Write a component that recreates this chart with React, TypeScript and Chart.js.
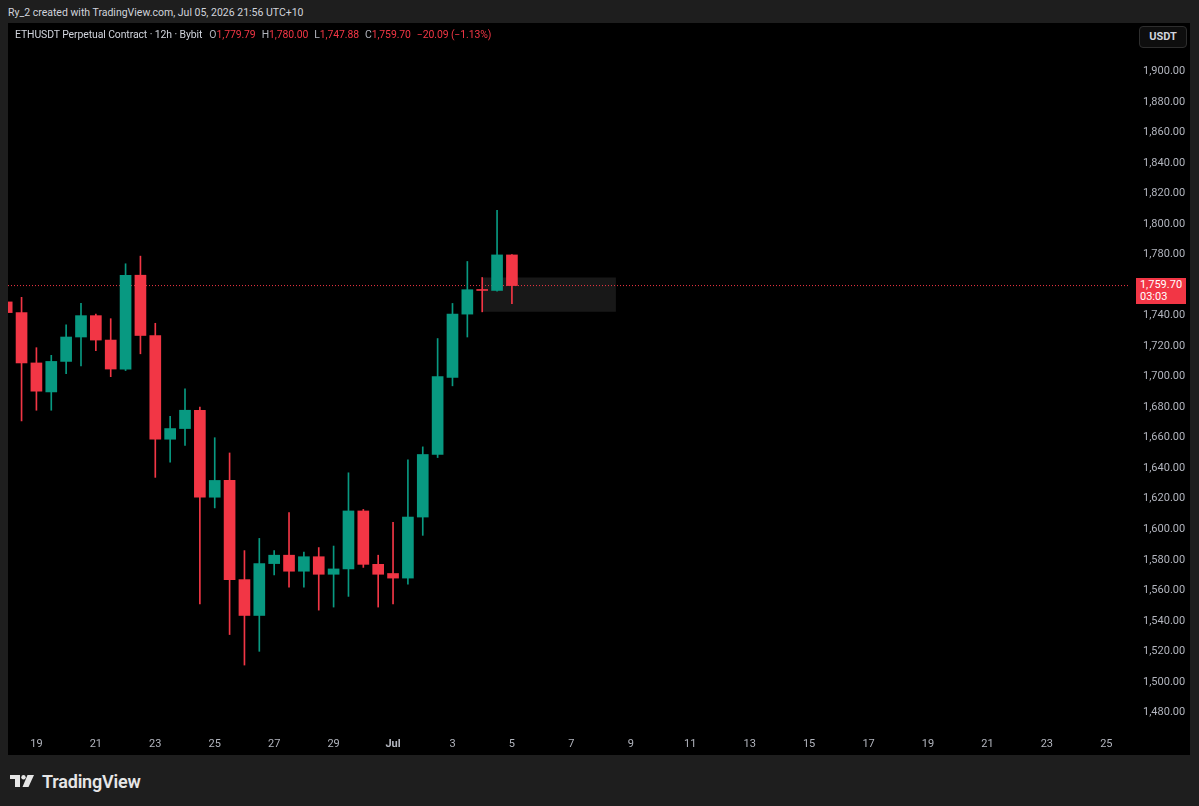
import React, { useEffect, useRef } from 'react';
import { Chart, registerables } from 'chart.js';

Chart.register(...registerables);

// Candle open times as day numbers counted from June (Jul 1 = 31), 12h candles
const DAYS = [
  18.0, 18.5, 19.0, 19.5, 20.0, 20.5, 21.0, 21.5, 22.0, 22.5,
  23.0, 23.5, 24.0, 24.5, 25.0, 25.5, 26.0, 26.5, 27.0, 27.5,
  28.0, 28.5, 29.0, 29.5, 30.0, 30.5, 31.0, 31.5, 32.0, 32.5,
  33.0, 33.5, 34.0, 34.5, 35.0,
];
const OPEN = [
  1749, 1742, 1709, 1690, 1710, 1726, 1740, 1724, 1705, 1766.5,
  1727, 1659, 1666, 1678, 1621, 1632, 1567, 1543.5, 1577.5, 1583,
  1572.5, 1582, 1570.5, 1574, 1612, 1577, 1571, 1568, 1608, 1649,
  1699.5, 1741, 1757, 1756.5, 1779.79,
];
const HIGH = [
  1752, 1752, 1719, 1714, 1734, 1748, 1741, 1738, 1774, 1779,
  1735, 1674, 1692, 1680, 1660, 1650, 1586, 1594, 1586, 1611,
  1585, 1588, 1589, 1637, 1613, 1583, 1604.5, 1645.5, 1654, 1725,
  1748, 1775.5, 1765, 1809, 1780.0,
];
const LOW = [
  1738, 1671, 1678, 1678, 1702, 1707, 1717, 1700, 1704, 1715,
  1634, 1644, 1655, 1551, 1614, 1531, 1511, 1520, 1570, 1562,
  1562, 1547, 1549, 1556, 1575, 1549, 1551, 1564, 1596, 1647,
  1694, 1726, 1742.5, 1756, 1747.88,
];
const CLOSE = [
  1742, 1709, 1690.5, 1710, 1726, 1740, 1724, 1705, 1766.5, 1727,
  1659, 1666, 1678, 1621, 1632, 1567, 1543.5, 1577.5, 1583, 1572.5,
  1582, 1570.5, 1574, 1612, 1577, 1570.5, 1568, 1608, 1649, 1700,
  1741, 1757, 1756.5, 1779.8, 1759.7,
];

const X_TICK_VALUES = [19, 21, 23, 25, 27, 29, 31, 33, 35, 37, 39, 41, 43, 45, 47, 49, 51, 53, 55];
const Y_TICK_VALUES = [
  1480, 1500, 1520, 1540, 1560, 1580, 1600, 1620, 1640, 1660, 1680,
  1700, 1720, 1740, 1760, 1780, 1800, 1820, 1840, 1860, 1880, 1900,
];
const LAST_PRICE = 1759.7;
const BOX_X = [34.0, 38.5];
const BOX_Y = [1742.5, 1765.0];

const X_MIN = 18.044;
const X_MAX = 55.797;
const Y_MIN = 1470.4;
const Y_MAX = 1931.8;

const UP = '#089981';
const DOWN = '#f23645';
const AXIS_TEXT = '#b2b5be';

function xLabel(v: number): string {
  if (v === 31) return 'Jul';
  return String(v > 30 ? v - 30 : v);
}

function CandleChart() {
  const ref = useRef<HTMLCanvasElement | null>(null);
  useEffect(() => {
    if (!ref.current) return;
    const colors = OPEN.map((o, i) => (CLOSE[i] >= o ? UP : DOWN));
    const chart = new Chart(ref.current, {
      type: 'bar',
      data: {
        datasets: [
          {
            type: 'line',
            label: 'box',
            data: [
              { x: BOX_X[0], y: BOX_Y[1] },
              { x: BOX_X[1], y: BOX_Y[1] },
            ],
            borderWidth: 0,
            borderColor: 'rgba(0,0,0,0)',
            pointRadius: 0,
            fill: { target: { value: BOX_Y[0] } },
            backgroundColor: '#181818',
            order: 5,
          } as any,
          {
            type: 'line',
            label: 'last',
            data: [
              { x: X_MIN, y: LAST_PRICE },
              { x: X_MAX, y: LAST_PRICE },
            ],
            borderColor: DOWN,
            borderWidth: 1,
            borderDash: [1, 2],
            pointRadius: 0,
            fill: false,
            order: 4,
          } as any,
          {
            type: 'bar',
            label: 'wicks',
            data: DAYS.map((d, i) => ({ x: d, y: [LOW[i], HIGH[i]] })),
            backgroundColor: colors,
            barThickness: 1,
            grouped: false,
            order: 3,
          } as any,
          {
            type: 'bar',
            label: 'bodies',
            data: DAYS.map((d, i) => ({ x: d, y: [OPEN[i], CLOSE[i]] })),
            backgroundColor: colors,
            barThickness: 11,
            minBarLength: 1,
            grouped: false,
            order: 2,
          } as any,
        ],
      },
      options: {
        responsive: false,
        animation: false,
        devicePixelRatio: 1,
        layout: { padding: 0 },
        plugins: { legend: { display: false }, tooltip: { enabled: false } },
        scales: {
          x: {
            type: 'linear',
            min: X_MIN,
            max: X_MAX,
            offset: false,
            grid: { display: false, drawTicks: false },
            border: { display: false },
            ticks: {
              autoSkip: false,
              maxRotation: 0,
              padding: 11,
              color: AXIS_TEXT,
              font: (ctx: any) => ({
                family: 'Roboto',
                size: 11,
                weight: ctx.tick && ctx.tick.value === 31 ? 'bold' : 'normal',
              }),
              callback: (v: any) => xLabel(Number(v)),
            },
            afterBuildTicks: (s: any) => {
              s.ticks = X_TICK_VALUES.map((value) => ({ value }));
            },
            afterFit: (s: any) => {
              s.height = 28;
              s.paddingLeft = 0;
              s.paddingRight = 0;
            },
          },
          y: {
            type: 'linear',
            position: 'right',
            min: Y_MIN,
            max: Y_MAX,
            grid: { display: false, drawTicks: false },
            border: { display: false },
            ticks: {
              autoSkip: false,
              padding: 13,
              color: AXIS_TEXT,
              font: { family: 'Roboto', size: 11 },
              callback: (v: any) =>
                Number(v).toLocaleString('en-US', { minimumFractionDigits: 2, maximumFractionDigits: 2 }),
            },
            afterBuildTicks: (s: any) => {
              s.ticks = Y_TICK_VALUES.map((value) => ({ value }));
            },
            afterFit: (s: any) => {
              s.width = 60;
              s.paddingTop = 0;
              s.paddingBottom = 0;
            },
          },
        },
      } as any,
    });
    return () => chart.destroy();
  }, []);
  return <canvas ref={ref} width={1182} height={732} style={{ display: 'block' }} />;
}

function Logo() {
  return (
    <div style={{ position: 'absolute', left: 10, top: 770, display: 'flex', alignItems: 'center', height: 22 }}>
      <svg width="24" height="12" viewBox="0 0 24 12" style={{ display: 'block' }}>
        <path d="M0 0 H10 V12 H5 V4 H0 Z" fill="#e6e6e6" />
        <circle cx="13.5" cy="2.2" r="2.2" fill="#e6e6e6" />
        <path d="M17.5 0 H24 L18.5 12 H12.5 Z" fill="#e6e6e6" />
      </svg>
      <span style={{ marginLeft: 8, fontFamily: 'Roboto', fontWeight: 600, fontSize: 18, color: '#e6e6e6', letterSpacing: -0.2 }}>
        TradingView
      </span>
    </div>
  );
}

export default function App() {
  const val = { color: DOWN };
  const lab = { color: '#b2b5be', marginLeft: 6 };
  return (
    <div
      style={{
        position: 'fixed',
        left: 0,
        top: 0,
        width: 1199,
        height: 806,
        background: '#1e1e1e',
        overflow: 'hidden',
        fontFamily: 'Roboto, sans-serif',
      }}
    >
      <div style={{ position: 'absolute', left: 8, top: 6, fontSize: 10.5, lineHeight: '14px', color: '#d1d4dc', whiteSpace: 'nowrap' }}>
        Ry_2 created with TradingView.com, Jul 05, 2026 21:56 UTC+10
      </div>
      <div style={{ position: 'absolute', left: 8, top: 23, width: 1182, height: 732, background: '#000' }}>
        <CandleChart />
        <div style={{ position: 'absolute', left: 7, top: 5, fontSize: 10.45, letterSpacing: -0.1, lineHeight: '14px', color: '#d1d4dc', whiteSpace: 'nowrap' }}>
          <span>ETHUSDT Perpetual Contract · 12h · Bybit</span>
          <span style={{ ...lab, marginLeft: 7 }}>O</span>
          <span style={val}>1,779.79</span>
          <span style={lab}>H</span>
          <span style={val}>1,780.00</span>
          <span style={lab}>L</span>
          <span style={val}>1,747.88</span>
          <span style={lab}>C</span>
          <span style={val}>1,759.70</span>
          <span style={{ ...val, marginLeft: 6 }}>−20.09 (−1.13%)</span>
        </div>
        <div
          style={{
            position: 'absolute',
            left: 1131,
            top: 3,
            width: 46,
            height: 20,
            border: '1px solid #2e2e2e',
            borderRadius: 4,
            background: '#0e0e0e',
            color: '#d1d4dc',
            fontSize: 11,
            fontWeight: 'bold',
            lineHeight: '20px',
            textAlign: 'center',
          }}
        >
          USDT
        </div>
        <div
          style={{
            position: 'absolute',
            left: 1128,
            top: 255,
            width: 50,
            height: 26,
            background: DOWN,
            color: '#ffffff',
            fontSize: 11,
            lineHeight: '12px',
            paddingTop: 1,
            boxSizing: 'border-box',
            textAlign: 'center',
          }}
        >
          <div>1,759.70</div>
          <div style={{ textAlign: 'left', paddingLeft: 4 }}>03:03</div>
        </div>
      </div>
      <Logo />
    </div>
  );
}
